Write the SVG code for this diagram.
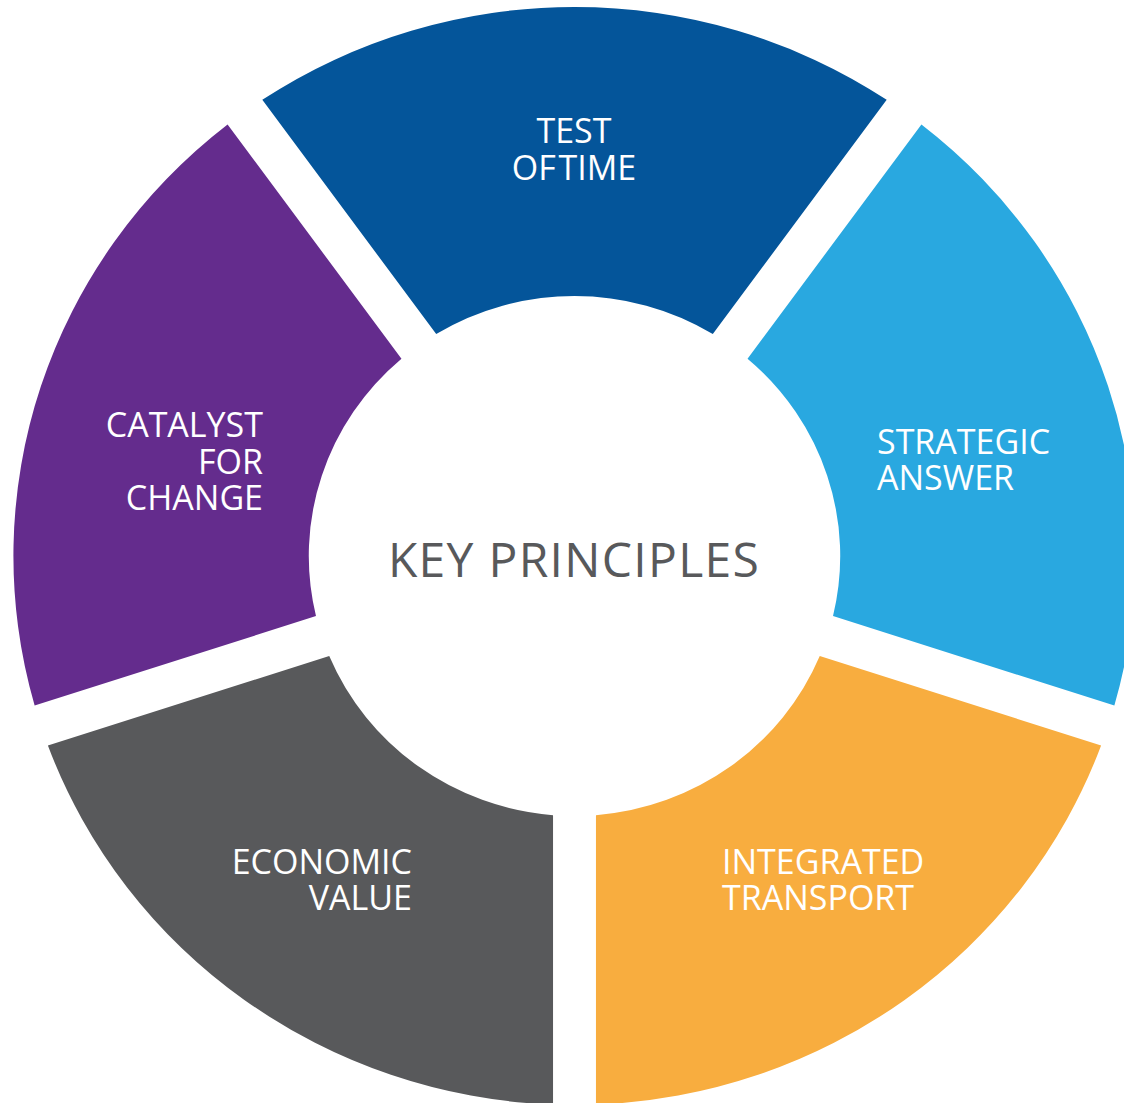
<svg xmlns="http://www.w3.org/2000/svg" width="1124" height="1103" viewBox="0 0 1124 1103">
  <style>
    .lbl { font-family: "Open Sans", "Noto Sans", "Liberation Sans", sans-serif; font-size: 34px; fill: #FFFFFF; }
    .ctr { font-family: "Open Sans", "Noto Sans", "Liberation Sans", sans-serif; font-size: 48px; fill: #58595B; letter-spacing: 1.3px; }
  </style>
  <rect x="0" y="0" width="1124" height="1103" fill="#FFFFFF"/>
  <g id="test-of-time">
    <path transform="translate(574.5 556) scale(1.022 1)" fill="#04559A" d="M -305.47 -456.17 A 549 549 0 0 1 305.47 -456.17 L 135.33 -222.00 A 260 260 0 0 0 -135.33 -222.00 Z"/>
    <text class="lbl" text-anchor="middle"><tspan x="574" y="143">TEST</tspan><tspan x="574" y="180" word-spacing="-6">OF TIME</tspan></text>
  </g>
  <g id="strategic-answer">
    <path transform="translate(574.5 556) scale(1.022 1)" fill="#29A8E0" d="M 339.45 -431.49 A 549 549 0 0 1 528.24 149.56 L 252.96 60.11 A 260 260 0 0 0 169.31 -197.32 Z"/>
    <text class="lbl"><tspan x="877" y="454">STRATEGIC</tspan><tspan x="877" y="490">ANSWER</tspan></text>
  </g>
  <g id="integrated-transport">
    <path transform="translate(574.5 556) scale(1.022 1)" fill="#F8AD3F" d="M 515.26 189.50 A 549 549 0 0 1 21 548.6 L 21 259.15 A 260 260 0 0 0 239.98 100.05 Z"/>
    <text class="lbl"><tspan x="722" y="874">INTEGRATED</tspan><tspan x="722" y="910">TRANSPORT</tspan></text>
  </g>
  <g id="economic-value">
    <path transform="translate(574.5 556) scale(1.022 1)" fill="#58595B" d="M -21 548.6 A 549 549 0 0 1 -515.26 189.50 L -239.98 100.05 A 260 260 0 0 0 -21 259.15 Z"/>
    <text class="lbl" text-anchor="end"><tspan x="412" y="874">ECONOMIC</tspan><tspan x="412" y="910">VALUE</tspan></text>
  </g>
  <g id="catalyst-for-change">
    <path transform="translate(574.5 556) scale(1.022 1)" fill="#642C8D" d="M -528.24 149.56 A 549 549 0 0 1 -339.45 -431.49 L -169.31 -197.32 A 260 260 0 0 0 -252.96 60.11 Z"/>
    <text class="lbl" text-anchor="end"><tspan x="263" y="437">CATALYST</tspan><tspan x="263" y="474">FOR</tspan><tspan x="263" y="510">CHANGE</tspan></text>
  </g>
  <g id="key-principles">
    <text class="ctr" x="574" y="577" text-anchor="middle">KEY PRINCIPLES</text>
  </g>
</svg>
